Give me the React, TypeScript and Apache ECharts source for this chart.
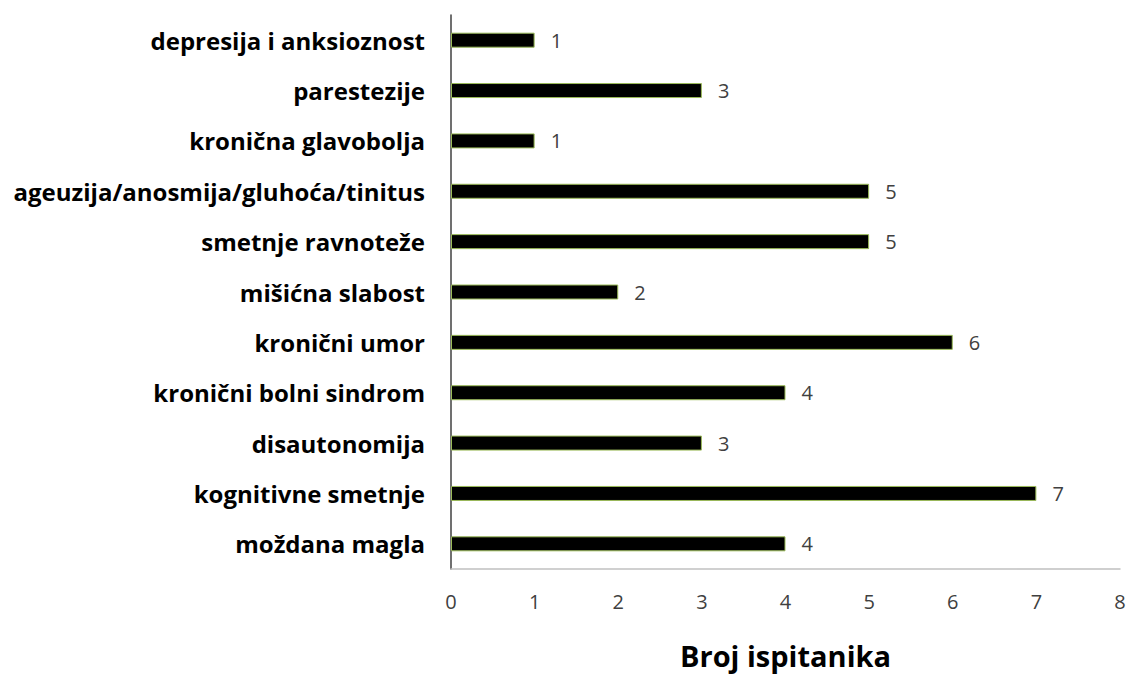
import React, { useEffect, useRef } from "react";
import * as echarts from "echarts";

const categories = [
  "moždana magla",
  "kognitivne smetnje",
  "disautonomija",
  "kronični bolni sindrom",
  "kronični umor",
  "mišićna slabost",
  "smetnje ravnoteže",
  "ageuzija/anosmija/gluhoća/tinitus",
  "kronična glavobolja",
  "parestezije",
  "depresija i anksioznost",
];
const values = [4, 7, 3, 4, 6, 2, 5, 5, 1, 3, 1];
const axisTitle = "Broj ispitanika";

export default function App() {
  const ref = useRef<HTMLDivElement>(null);
  useEffect(() => {
    if (!ref.current) return;
    const chart = echarts.init(ref.current, null, { renderer: "svg" });
    chart.setOption({
      animation: false,
      grid: { left: 451, right: 9, top: 15, bottom: 106, containLabel: false, outerBoundsMode: "none" },
      xAxis: {
        type: "value",
        min: 0,
        max: 8,
        interval: 1,
        name: axisTitle,
        nameLocation: "middle",
        nameGap: 72,
        nameTextStyle: { fontFamily: "Open Sans", fontWeight: "bold", fontSize: 29, color: "#000" },
        axisLine: { show: true, lineStyle: { color: "#c0c0c0", width: 1.5 } },
        axisTick: { show: false },
        splitLine: { show: false },
        axisLabel: { fontFamily: "Open Sans", fontSize: 20, color: "#404040", margin: 22 },
      },
      yAxis: {
        type: "category",
        data: categories,
        axisLine: { show: true, lineStyle: { color: "#404040", width: 1.5 } },
        axisTick: { show: false },
        axisLabel: { fontFamily: "Open Sans", fontWeight: "bold", fontSize: 24, color: "#000", margin: 26 },
      },
      series: [
        {
          type: "bar",
          data: values,
          barWidth: 15,
          itemStyle: { color: "#000", borderColor: "#9bbb59", borderWidth: 1 },
          label: {
            show: true,
            position: "right",
            distance: 16,
            fontFamily: "Open Sans",
            fontSize: 20,
            color: "#404040",
          },
        },
      ],
    });
    return () => chart.dispose();
  }, []);
  return <div ref={ref} style={{ width: 1129, height: 675, position: "absolute", left: 0, top: 0 }} />;
}
